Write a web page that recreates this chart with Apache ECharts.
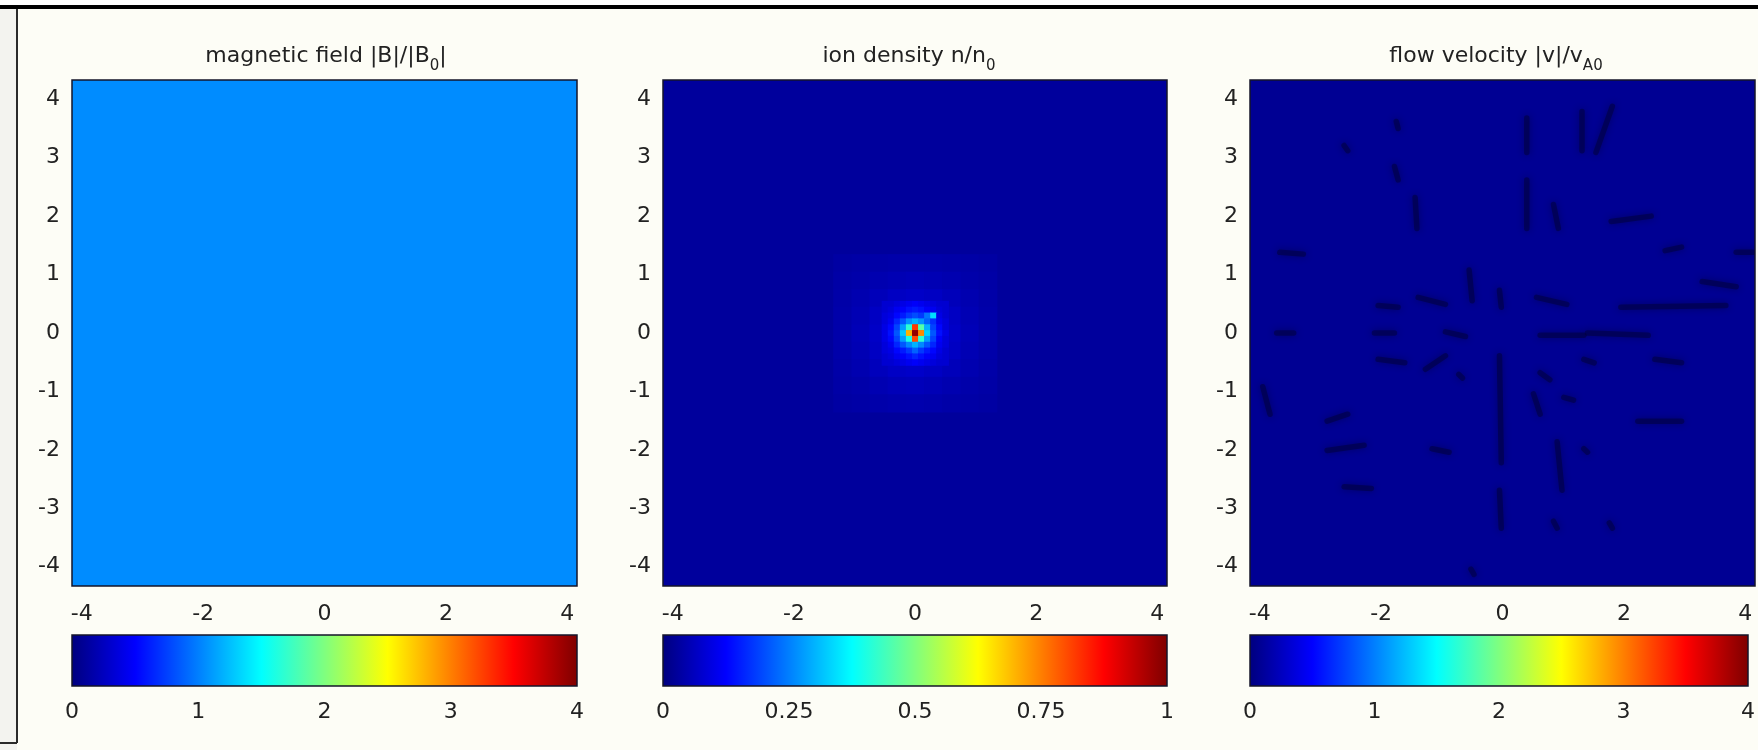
<!DOCTYPE html>
<html><head><meta charset="utf-8">
<script src="https://cdn.jsdelivr.net/npm/echarts@6/dist/echarts.min.js"></script>
<style>html,body{margin:0;padding:0;background:#fdfdf6}#c{width:1758px;height:750px}</style>
</head><body><div id="c"></div>
<script>
// ---------------- data ----------------
const panelTitles = [
  ['magnetic field |B|/|B', '0', '|'],
  ['ion density n/n', '0', ''],
  ['flow velocity |v|/v', 'A0', '']
];
const xTicks = [-4, -2, 0, 2, 4];
const yTicks = [-4, -3, -2, -1, 0, 1, 2, 3, 4];
const xRange = [-4.16, 4.16];
const yRange = [-4.33, 4.33];
// colour bar ranges: [min, max, tick step]
const cbarMag = [0, 4, 1];
const cbarDens = [0, 1, 0.25];
const cbarVel = [0, 4, 1];

// magnetic field: uniform level over the whole panel
const magLevel = 1.05;
// ion density: background level, coarse halo (0.3 spacing) and fine core (0.1 spacing)
const densBackground = 0.028;
const densHalo = [
  [.035,.038,.040,.042,.042,.042,.040,.038,.035],
  [.038,.042,.048,.052,.055,.052,.048,.042,.038],
  [.040,.048,.058,.066,.070,.066,.058,.048,.040],
  [.042,.052,.066,.080,.090,.080,.066,.052,.042],
  [.042,.055,.070,.090,.100,.090,.070,.055,.042],
  [.042,.052,.066,.082,.090,.082,.066,.052,.042],
  [.040,.048,.060,.068,.072,.066,.058,.048,.040],
  [.038,.042,.050,.056,.058,.054,.048,.042,.038],
  [.035,.038,.042,.045,.046,.044,.040,.038,.035]
];
const densCore = [
  [.08,.08,.09,.10,.11,.12,.11,.10,.09,.08,.08],
  [.08,.09,.11,.12,.14,.15,.14,.12,.11,.09,.08],
  [.09,.10,.13,.15,.18,.20,.18,.24,.34,.10,.08],
  [.09,.11,.16,.21,.27,.30,.27,.22,.17,.11,.09],
  [.10,.13,.19,.28,.42,.82,.46,.30,.19,.13,.09],
  [.10,.14,.21,.32,.70,.98,.74,.33,.21,.14,.10],
  [.10,.13,.19,.28,.40,.80,.42,.28,.19,.12,.09],
  [.09,.11,.16,.21,.26,.30,.26,.21,.16,.11,.09],
  [.09,.10,.13,.15,.18,.22,.18,.15,.13,.10,.08],
  [.08,.09,.11,.12,.14,.16,.14,.12,.11,.09,.08],
  [.08,.08,.09,.10,.11,.12,.11,.10,.09,.08,.08]
];
// flow velocity: background level and dark streaks [x1, y1, x2, y2]
const velBackground = 0.08;
const velStreaks = [
  [1.31,3.79,1.31,3.12],[1.81,3.88,1.54,3.09],[0.40,3.68,0.40,3.09],
  [-1.75,3.62,-1.72,3.50],[-1.78,2.85,-1.72,2.62],[-2.61,3.21,-2.55,3.12],
  [-1.44,2.32,-1.41,1.79],[0.40,2.62,0.40,1.79],[0.84,2.20,0.92,1.79],
  [1.79,1.91,2.45,2.00],[-3.67,1.38,-3.28,1.35],[2.68,1.41,2.95,1.47],
  [3.85,1.38,4.12,1.38],[3.29,0.88,3.85,0.79],[-0.55,1.08,-0.50,0.55],
  [-0.05,0.73,-0.02,0.44],[-2.05,0.47,-1.72,0.44],[-1.39,0.61,-0.94,0.49],
  [0.56,0.61,1.06,0.49],[1.95,0.44,3.68,0.47],[-3.72,0.0,-3.44,0.0],
  [-2.11,0.0,-1.78,0.0],[-0.94,0.02,-0.61,-0.06],[0.62,-0.04,1.34,-0.04],
  [1.40,0.0,2.40,-0.04],[-2.05,-0.45,-1.61,-0.51],[-1.27,-0.62,-0.94,-0.39],
  [-0.72,-0.71,-0.66,-0.77],[-0.05,-0.39,-0.02,-2.22],[0.62,-0.68,0.78,-0.80],
  [1.34,-0.45,1.51,-0.51],[2.51,-0.45,2.95,-0.51],[0.51,-1.04,0.62,-1.39],
  [1.01,-1.10,1.17,-1.15],[-3.95,-0.92,-3.83,-1.39],[-2.89,-1.51,-2.55,-1.39],
  [2.23,-1.51,2.95,-1.51],[-2.89,-2.01,-2.28,-1.92],[-1.16,-1.98,-0.88,-2.04],
  [0.90,-1.86,0.98,-2.69],[1.34,-1.98,1.40,-2.04],[-2.61,-2.63,-2.16,-2.66],
  [-0.05,-2.69,-0.02,-3.34],[0.84,-3.22,0.90,-3.34],[1.76,-3.25,1.81,-3.34],
  [-0.52,-4.04,-0.47,-4.13]
];

// ---------------- layout / style ----------------
const jet = ['#00007f','#0000ff','#007fff','#00ffff','#7fff7f','#ffff00','#ff7f00','#ff0000','#7f0000'];
const FONT = 'DejaVu Sans';
const TXT = '#222222';
const plotLefts = [72, 663, 1250];
const plotWidths = [505, 504, 505];
const titleCenters = [321, 904, 1491];
const PLOT_TOP = 80, PLOT_H = 506, CB_TOP = 635, CB_H = 51;

function matrixToCells(rows, xStart, yStart, step) {
  const out = [];
  rows.forEach((row, i) => row.forEach((v, j) => out.push([xStart + j * step, yStart - i * step, v])));
  return out;
}
function cellRenderer(size) {
  return function (params, api) {
    const x = api.value(0), y = api.value(1);
    const a = api.coord([x - size / 2, y + size / 2]);
    const b = api.coord([x + size / 2, y - size / 2]);
    return { type: 'rect', shape: { x: a[0], y: a[1], width: b[0] - a[0] + 0.6, height: b[1] - a[1] + 0.6 },
      style: { fill: api.visual('color') } };
  };
}
function cbarRenderer(params, api) {
  const a = api.coord([api.value(0), 1]);
  const b = api.coord([api.value(1), 0]);
  return { type: 'rect', shape: { x: a[0], y: a[1], width: b[0] - a[0], height: b[1] - a[1] },
    style: { fill: { type: 'linear', x: 0, y: 0, x2: 1, y2: 0,
      colorStops: jet.map((c, i) => ({ offset: i / (jet.length - 1), color: c })) } } };
}
function streakRenderer(params, api) {
  const p = api.coord([api.value(0), api.value(1)]);
  const q = api.coord([api.value(2), api.value(3)]);
  return { type: 'line', shape: { x1: p[0], y1: p[1], x2: q[0], y2: q[1] },
    style: { stroke: 'rgba(0,0,55,0.5)', lineWidth: 5.5, lineCap: 'round',
      shadowBlur: 7, shadowColor: 'rgba(0,0,40,0.8)' } };
}

const labelStyle = { fontSize: 22, color: TXT, fontFamily: FONT, fontWeight: 'normal' };
const grids = [], xAxes = [], yAxes = [];
for (let i = 0; i < 3; i++) {
  grids.push({ left: plotLefts[i], top: PLOT_TOP, width: plotWidths[i], height: PLOT_H,
    show: true, z: 5, backgroundColor: 'transparent', borderColor: '#15152a', borderWidth: 1.5 });
  xAxes.push({ type: 'value', gridIndex: i, min: xRange[0], max: xRange[1],
    axisLine: { show: false }, axisTick: { show: false }, splitLine: { show: false },
    axisLabel: Object.assign({ customValues: xTicks, margin: 17 }, labelStyle) });
  yAxes.push({ type: 'value', gridIndex: i, min: yRange[0], max: yRange[1],
    axisLine: { show: false }, axisTick: { show: false }, splitLine: { show: false },
    axisLabel: Object.assign({ customValues: yTicks, margin: 12 }, labelStyle) });
}
const cbars = [cbarMag, cbarDens, cbarVel];
for (let i = 0; i < 3; i++) {
  grids.push({ left: plotLefts[i], top: CB_TOP, width: plotWidths[i], height: CB_H,
    show: true, z: 5, backgroundColor: 'transparent', borderColor: '#15152a', borderWidth: 1.5 });
  xAxes.push({ type: 'value', gridIndex: 3 + i, min: cbars[i][0], max: cbars[i][1], interval: cbars[i][2],
    axisLine: { show: false }, axisTick: { show: false }, splitLine: { show: false },
    axisLabel: Object.assign({ margin: 15 }, labelStyle) });
  yAxes.push({ type: 'value', gridIndex: 3 + i, min: 0, max: 1, show: false });
}

const series = [
  { type: 'custom', xAxisIndex: 0, yAxisIndex: 0, clip: true, renderItem: cellRenderer(20), data: [[0, 0, magLevel]] },
  { type: 'custom', xAxisIndex: 1, yAxisIndex: 1, clip: true, renderItem: cellRenderer(20), data: [[0, 0, densBackground]] },
  { type: 'custom', xAxisIndex: 1, yAxisIndex: 1, clip: true, renderItem: cellRenderer(0.3), data: matrixToCells(densHalo, -1.2, 1.2, 0.3) },
  { type: 'custom', xAxisIndex: 1, yAxisIndex: 1, clip: true, renderItem: cellRenderer(0.1), data: matrixToCells(densCore, -0.5, 0.5, 0.1) },
  { type: 'custom', xAxisIndex: 2, yAxisIndex: 2, clip: true, renderItem: cellRenderer(20), data: [[0, 0, velBackground]] },
  { type: 'custom', xAxisIndex: 2, yAxisIndex: 2, clip: true, renderItem: streakRenderer, data: velStreaks },
  { type: 'custom', xAxisIndex: 3, yAxisIndex: 3, renderItem: cbarRenderer, data: [[cbarMag[0], cbarMag[1]]] },
  { type: 'custom', xAxisIndex: 4, yAxisIndex: 4, renderItem: cbarRenderer, data: [[cbarDens[0], cbarDens[1]]] },
  { type: 'custom', xAxisIndex: 5, yAxisIndex: 5, renderItem: cbarRenderer, data: [[cbarVel[0], cbarVel[1]]] }
];
const visualMap = [
  { type: 'continuous', show: false, dimension: 2, min: cbarMag[0], max: cbarMag[1], seriesIndex: [0], inRange: { color: jet } },
  { type: 'continuous', show: false, dimension: 2, min: cbarDens[0], max: cbarDens[1], seriesIndex: [1, 2, 3], inRange: { color: jet } },
  { type: 'continuous', show: false, dimension: 2, min: cbarVel[0], max: cbarVel[1], seriesIndex: [4], inRange: { color: jet } }
];
const titles = panelTitles.map((t, i) => ({
  text: '{m|' + t[0] + '}{s|' + t[1] + '}' + (t[2] ? '{m|' + t[2] + '}' : ''),
  left: titleCenters[i], top: 40, textAlign: 'center',
  textStyle: { fontWeight: 'normal', fontFamily: FONT, color: TXT, rich: {
    m: { fontSize: 22, fontFamily: FONT, fontWeight: 'normal', color: TXT, lineHeight: 24, verticalAlign: 'top' },
    s: { fontSize: 15, fontFamily: FONT, fontWeight: 'normal', color: TXT, lineHeight: 42 }
  } }
}));

const chart = echarts.init(document.getElementById('c'), null, { renderer: 'canvas' });
chart.setOption({
  backgroundColor: '#fdfdf6',
  animation: false,
  textStyle: { fontFamily: FONT },
  title: titles,
  grid: grids, xAxis: xAxes, yAxis: yAxes,
  visualMap: visualMap,
  series: series,
  graphic: [
    { type: 'rect', z: -10, silent: true, shape: { x: 0, y: 0, width: 17, height: 750 }, style: { fill: '#f3f3ef' } },
    { type: 'rect', silent: true, shape: { x: 0, y: 0, width: 1758, height: 5 }, style: { fill: '#ffffff' } },
    { type: 'rect', silent: true, shape: { x: 0, y: 5, width: 1758, height: 4 }, style: { fill: '#000000' } },
    { type: 'line', silent: true, shape: { x1: 17, y1: 9, x2: 17, y2: 743 }, style: { stroke: '#2a2a2a', lineWidth: 2 } },
    { type: 'line', silent: true, shape: { x1: 0, y1: 743, x2: 17, y2: 743 }, style: { stroke: '#2a2a2a', lineWidth: 2 } }
  ]
});
</script>
</body></html>
